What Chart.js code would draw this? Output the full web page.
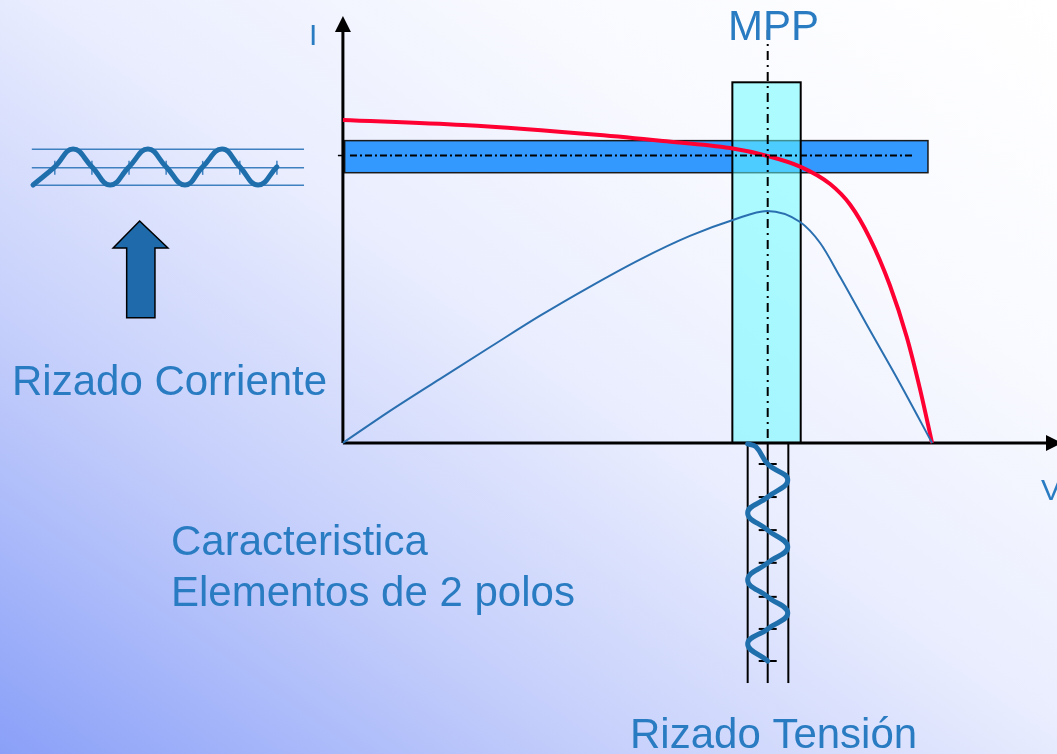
<!DOCTYPE html>
<html>
<head>
<meta charset="utf-8">
<script src="https://cdn.jsdelivr.net/npm/chart.js@4.4.1/dist/chart.umd.min.js"></script>
<style>
  html, body { margin: 0; padding: 0; }
  body {
    width: 1057px; height: 754px; overflow: hidden;
    background: linear-gradient(to top right, #8aa0f8 0%, #c4cefb 28%, #e9edfe 52%, #f9faff 75%, #ffffff 100%);
  }
  #wrap { position: relative; width: 1057px; height: 754px; }
</style>
</head>
<body>
<div id="wrap"><canvas id="mppChart" width="1057" height="754"></canvas></div>
<script>
// --- diagram values (V and I in % of Voc / Isc) ---
const ivVoltage = [0, 20.4, 43.1, 54.3, 65.7, 72.0, 77.7, 82.7, 86.1, 89.4, 92.8, 95.7, 97.9, 100];
const ivCurrent = [99.7, 98.1, 95.1, 93.2, 91.0, 88.6, 85.2, 79.9, 73.5, 63.3, 48.8, 32.7, 17.0, 0];

const pvVoltage = [0, 8.0, 16.5, 25.0, 33.4, 41.9, 50.4, 58.9, 66.2, 72.0, 77.6, 81.0, 84.4, 89.4, 94.5, 100];
const pvPower   = [0, 9.9, 19.8, 29.6, 39.2, 48.2, 56.6, 63.9, 68.8, 71.6, 68.2, 61.7, 51.2, 34.9, 18.5, 0];

// MPP point and ripple bands around it
const mppVoltage = 72.1;
const mppCurrent = 88.7;
const currentBand = [83.4, 93.3];     // I range of the horizontal band
const currentBandV = [0.3, 99.3];
const voltageBand = [66.1, 77.7];     // V range of the vertical band
const voltageBandTop = 111.3;

// current ripple drawing (left side)
const rippleIV = [-52.6, -48.9, -45.8, -42.6, -39.5, -36.3, -33.1, -30.0, -26.8, -23.8, -20.5, -17.5, -14.4, -11.2];
const rippleII = [79.6, 85.2, 90.7, 85.2, 79.6, 85.2, 90.7, 85.2, 79.6, 85.2, 90.7, 85.2, 79.6, 85.2];
const rippleIGuides = [90.6, 84.9, 79.5];
const rippleIGuideV = [-52.8, -6.6];

// voltage ripple drawing (below the axis)
const rippleVV = [68.7, 70.1, 72.1, 75.5, 72.1, 68.7, 72.1, 75.5, 72.1, 68.7, 72.1, 75.5, 72.1, 68.7, 72.1];
const rippleVI = [-0.3, -1.2, -6.5, -11.4, -16.7, -21.6, -26.9, -32.1, -37.0, -42.3, -47.5, -52.5, -57.4, -62.0, -67.3];
const rippleVGuides = [68.7, 72.1, 75.6];
const rippleVGuideI = [0, -74.1];

// scale window of the whole slide
const xRange = [-58.2, 121.2];
const yRange = [-96.0, 136.7];

const textBlue = '#2a7cc2';
const pts = (xs, ys) => xs.map((x, i) => ({ x: x, y: ys[i] }));

// --- background shapes, axes and labels drawn with the chart scales ---
const diagramPlugin = {
    id: 'diagram',
    beforeDatasetsDraw(chart) {
        const c = chart.ctx;
        const sx = chart.scales.x, sy = chart.scales.y;
        const X = v => sx.getPixelForValue(v), Y = v => sy.getPixelForValue(v);
        c.save();

        // ripple guide lines (current)
        c.strokeStyle = '#3f80c0';
        c.lineWidth = 1.5;
        rippleIGuides.forEach(i => {
            c.beginPath(); c.moveTo(X(rippleIGuideV[0]), Y(i)); c.lineTo(X(rippleIGuideV[1]), Y(i)); c.stroke();
        });
        // ticks on the middle guide at the zero crossings
        for (let k = 1; k < rippleIV.length; k += 2) {
            c.beginPath(); c.moveTo(X(rippleIV[k]), Y(rippleIGuides[1]) - 7); c.lineTo(X(rippleIV[k]), Y(rippleIGuides[1]) + 7); c.stroke();
        }

        // ripple guide lines (voltage)
        c.strokeStyle = '#000';
        c.lineWidth = 2;
        rippleVGuides.forEach(v => {
            c.beginPath(); c.moveTo(X(v), Y(rippleVGuideI[0])); c.lineTo(X(v), Y(rippleVGuideI[1])); c.stroke();
        });
        for (let k = 2; k < rippleVI.length; k += 2) {
            c.beginPath(); c.moveTo(X(rippleVGuides[1]) - 9, Y(rippleVI[k])); c.lineTo(X(rippleVGuides[1]) + 9, Y(rippleVI[k])); c.stroke();
        }

        // current ripple band
        c.fillStyle = '#3399ff';
        c.strokeStyle = '#1a1a1a';
        c.lineWidth = 1.5;
        const hx0 = X(currentBandV[0]), hx1 = X(currentBandV[1]);
        const hy0 = Y(currentBand[1]), hy1 = Y(currentBand[0]);
        c.fillRect(hx0, hy0, hx1 - hx0, hy1 - hy0);
        c.strokeRect(hx0, hy0, hx1 - hx0, hy1 - hy0);

        // voltage ripple band (semi transparent cyan)
        const vx0 = X(voltageBand[0]), vx1 = X(voltageBand[1]);
        const vy0 = Y(voltageBandTop), vy1 = Y(0);
        c.fillStyle = 'rgba(100,252,255,0.52)';
        c.fillRect(vx0, vy0, vx1 - vx0, vy1 - vy0);
        c.strokeStyle = '#000';
        c.lineWidth = 2;
        c.strokeRect(vx0, vy0, vx1 - vx0, vy1 - vy0);

        // axes with arrow heads
        const ox = X(0), oy = Y(0);
        c.lineWidth = 3;
        c.strokeStyle = '#000';
        c.fillStyle = '#000';
        c.beginPath(); c.moveTo(ox, oy); c.lineTo(ox, 30); c.stroke();
        c.beginPath(); c.moveTo(ox, 16); c.lineTo(ox - 8, 32); c.lineTo(ox + 8, 32); c.closePath(); c.fill();
        c.beginPath(); c.moveTo(ox, oy); c.lineTo(1048, oy); c.stroke();
        c.beginPath(); c.moveTo(1062, oy); c.lineTo(1046, oy - 8); c.lineTo(1046, oy + 8); c.closePath(); c.fill();
        // small tick on the I axis at the MPP current
        c.lineWidth = 1.5;
        c.beginPath(); c.moveTo(ox - 5, Y(mppCurrent)); c.lineTo(ox, Y(mppCurrent)); c.stroke();

        // big arrow pointing up at the current ripple
        c.beginPath();
        c.moveTo(X(-34.5), Y(68.5));
        c.lineTo(X(-29.7), Y(60.2));
        c.lineTo(X(-31.9), Y(60.2));
        c.lineTo(X(-31.9), Y(38.6));
        c.lineTo(X(-36.7), Y(38.6));
        c.lineTo(X(-36.7), Y(60.2));
        c.lineTo(X(-39.0), Y(60.2));
        c.closePath();
        c.fillStyle = '#1f6aaa';
        c.fill();
        c.lineWidth = 1.5;
        c.strokeStyle = '#000';
        c.stroke();

        c.restore();
    },
    afterDatasetsDraw(chart) {
        const c = chart.ctx;
        const sx = chart.scales.x, sy = chart.scales.y;
        const X = v => sx.getPixelForValue(v), Y = v => sy.getPixelForValue(v);
        c.save();

        // dash-dot lines through the MPP
        c.strokeStyle = '#000';
        c.lineWidth = 2;
        c.setLineDash([7, 3, 2, 3]);
        c.beginPath(); c.moveTo(X(1.2), Y(mppCurrent)); c.lineTo(X(97.0), Y(mppCurrent)); c.stroke();
        c.setLineDash([9, 5, 2, 5]);
        c.beginPath(); c.moveTo(X(mppVoltage), 30); c.lineTo(X(mppVoltage), Y(0)); c.stroke();
        c.setLineDash([]);

        // texts
        c.fillStyle = textBlue;
        c.textBaseline = 'alphabetic';
        c.font = '30px "Liberation Sans", Arial, sans-serif';
        c.fillText('I', 309, 45);
        c.fillText('V', 1041, 500);
        c.font = '42px "Liberation Sans", Arial, sans-serif';
        c.fillText('MPP', 728, 40);
        c.fillText('Rizado Corriente', 12, 395);
        c.fillText('Caracteristica', 171, 555);
        c.fillText('Elementos de 2 polos', 171, 606);
        c.fillText('Rizado Tensión', 630, 748);
        c.restore();
    }
};

const ctx = document.getElementById('mppChart').getContext('2d');
new Chart(ctx, {
    type: 'scatter',
    data: {
        datasets: [
            {
                label: 'P-V',
                data: pts(pvVoltage, pvPower),
                showLine: true,
                borderColor: '#2a6fb0',
                borderWidth: 2,
                cubicInterpolationMode: 'monotone',
                pointRadius: 0,
                clip: false
            },
            {
                label: 'I-V',
                data: pts(ivVoltage, ivCurrent),
                showLine: true,
                borderColor: '#ff0033',
                borderWidth: 4,
                cubicInterpolationMode: 'monotone',
                pointRadius: 0,
                clip: false
            },
            {
                label: 'Rizado corriente',
                data: pts(rippleIV, rippleII),
                showLine: true,
                borderColor: '#1f6fad',
                borderWidth: 5,
                borderCapStyle: 'round',
                tension: 0.45,
                pointRadius: 0,
                clip: false
            },
            {
                label: 'Rizado tension',
                data: pts(rippleVV, rippleVI),
                showLine: true,
                borderColor: '#1f6fad',
                borderWidth: 5,
                borderCapStyle: 'round',
                tension: 0.45,
                pointRadius: 0,
                clip: false
            }
        ]
    },
    options: {
        responsive: false,
        animation: false,
        devicePixelRatio: 1,
        layout: { padding: 0 },
        plugins: { legend: { display: false }, tooltip: { enabled: false } },
        elements: { line: { capBezierPoints: false } },
        scales: {
            x: { type: 'linear', min: xRange[0], max: xRange[1], display: false },
            y: { type: 'linear', min: yRange[0], max: yRange[1], display: false }
        }
    },
    plugins: [diagramPlugin]
});
</script>
</body>
</html>
